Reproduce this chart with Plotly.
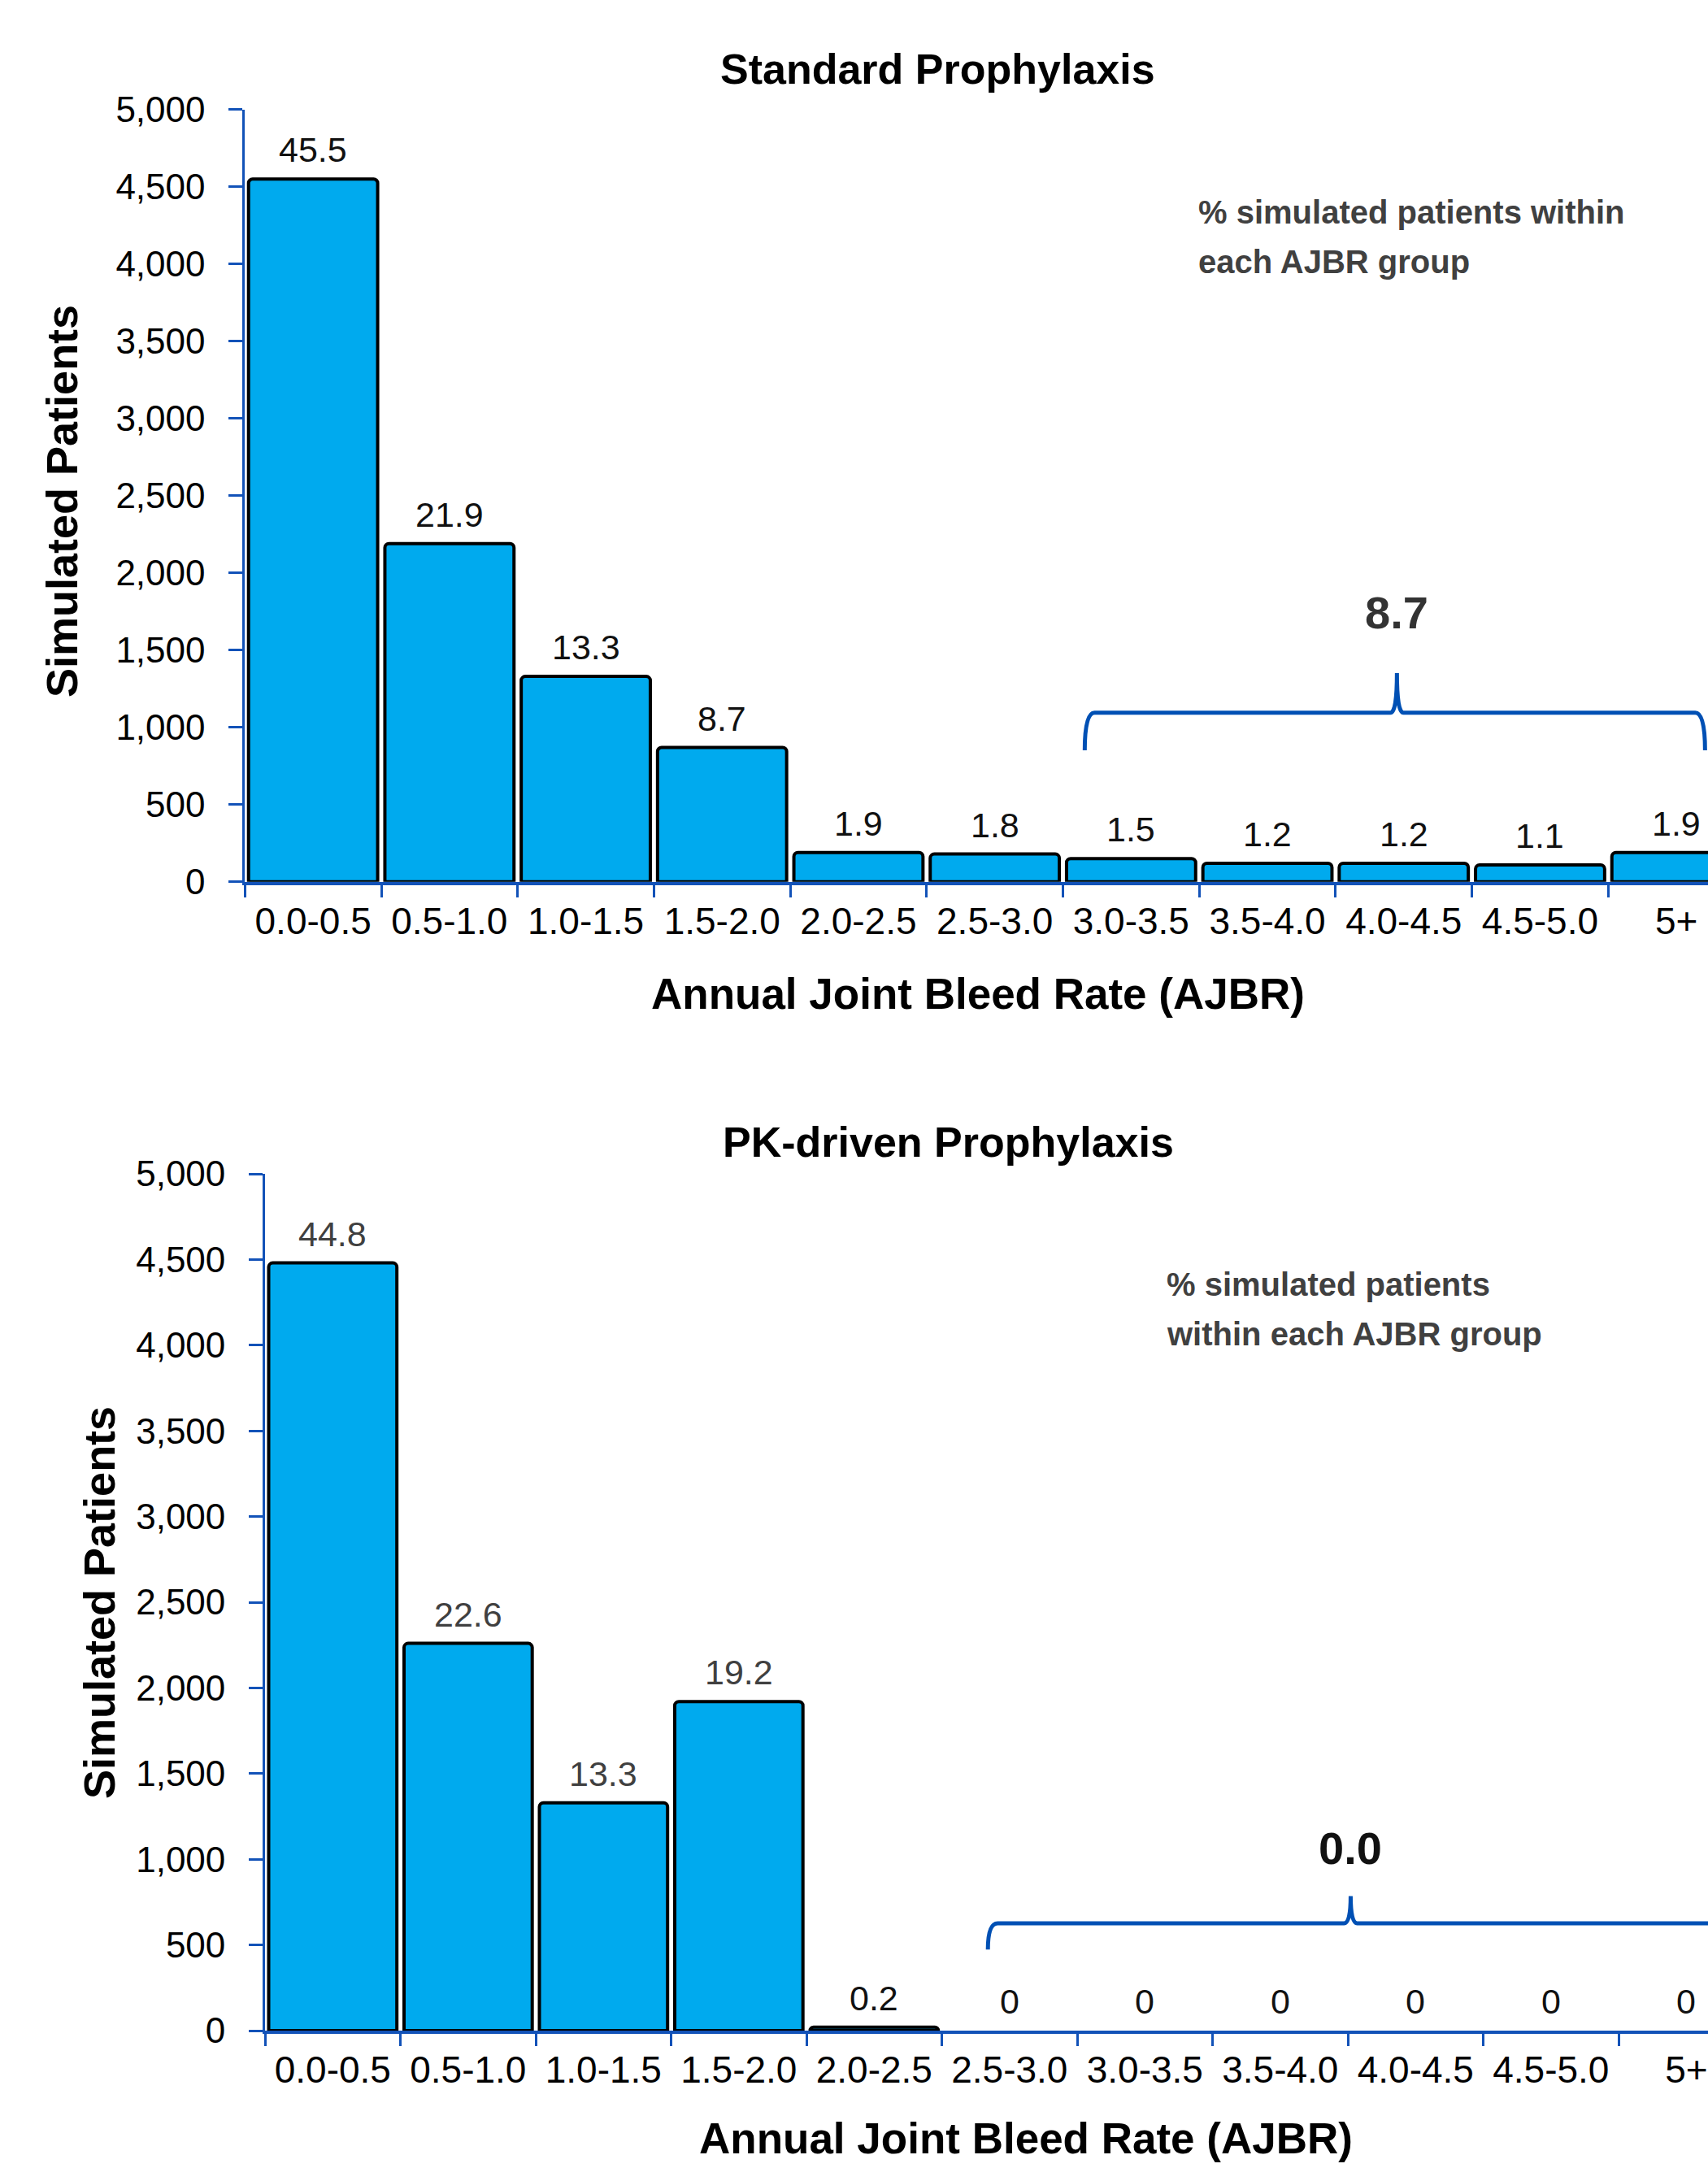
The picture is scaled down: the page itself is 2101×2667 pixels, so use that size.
import plotly.graph_objects as go

W, H = 2101, 2667

categories = ["0.0-0.5", "0.5-1.0", "1.0-1.5", "1.5-2.0", "2.0-2.5", "2.5-3.0",
              "3.0-3.5", "3.5-4.0", "4.0-4.5", "4.5-5.0", "5+"]

std_counts = [4550, 2190, 1330, 870, 190, 180, 150, 120, 120, 110, 190]
std_pct = [45.5, 21.9, 13.3, 8.7, 1.9, 1.8, 1.5, 1.2, 1.2, 1.1, 1.9]
std_label_colors = ["#111111"] * 11

pk_counts = [4480, 2260, 1330, 1920, 20, 0, 0, 0, 0, 0, 0]
pk_pct = [44.8, 22.6, 13.3, 19.2, 0.2, 0, 0, 0, 0, 0, 0]
pk_label_colors = ["#404040", "#404040", "#404040", "#404040",
                   "#111111", "#111111", "#111111", "#111111", "#111111", "#111111", "#111111"]

y_ticks = [0, 500, 1000, 1500, 2000, 2500, 3000, 3500, 4000, 4500, 5000]

titles = ["Standard Prophylaxis", "PK-driven Prophylaxis"]
notes = [["% simulated patients within", "each AJBR group"],
         ["% simulated patients", "within each AJBR group"]]
bracket_totals = ["8.7", "0.0"]
x_title = "Annual Joint Bleed Rate (AJBR)"
y_title = "Simulated Patients"

FONT = "Liberation Sans, Arial, sans-serif"
BAR = "#00AAEE"
AXBLUE = "#1252B8"
BRBLUE = "#0050B4"


def px(x):
    return x / W


def py(y):
    return 1 - y / H


fig = go.Figure()

panels = [
    dict(counts=std_counts, pct=std_pct, colors=std_label_colors, xa="x", ya="y",
         axis_left=301.3, cat_w=167.7, y0=1084.8, y5000=134.8),
    dict(counts=pk_counts, pct=pk_pct, colors=pk_label_colors, xa="x2", ya="y2",
         axis_left=326.1, cat_w=166.5, y0=2498.0, y5000=1444.0),
]

annotations = []
shapes = []

for i, p in enumerate(panels):
    fig.add_trace(go.Bar(
        x=categories, y=p["counts"], xaxis=p["xa"], yaxis=p["ya"],
        marker=dict(color=BAR, cornerradius=5,
                    line=dict(color="black", width=[4 if v > 0 else 0 for v in p["counts"]])),
        showlegend=False, hoverinfo="x+y",
    ))
    for c, v, pc, col in zip(categories, p["counts"], p["pct"], p["colors"]):
        annotations.append(dict(
            x=c, y=v, xref=p["xa"], yref=p["ya"], text=(f"{pc:.1f}" if pc else "0"),
            showarrow=False, yanchor="bottom", yshift=10,
            font=dict(family=FONT, size=43, color=col),
        ))

# axes
for i, p in enumerate(panels):
    xr_end = -0.5 + (W - p["axis_left"]) / p["cat_w"]
    xkey = "xaxis" if i == 0 else "xaxis2"
    ykey = "yaxis" if i == 0 else "yaxis2"
    fig.layout[xkey] = dict(
        domain=[px(p["axis_left"]), 1], anchor=p["ya"], type="category",
        categoryorder="array", categoryarray=categories, automargin=False,
        range=[-0.5, xr_end], tickson="boundaries", ticks="outside", ticklen=15,
        tickwidth=3, tickcolor=AXBLUE, showline=True, linecolor=AXBLUE, linewidth=4,
        showgrid=False, zeroline=False, ticklabelstandoff=5, tickangle=0,
        tickfont=dict(family=FONT, size=46, color="black"),
    )
    fig.layout[ykey] = dict(
        domain=[py(p["y0"]), py(p["y5000"])], anchor=p["xa"], range=[0, 5000],
        tickvals=y_ticks, tickformat=",", ticks="outside", ticklen=17, tickwidth=3,
        tickcolor=AXBLUE, showline=True, linecolor=AXBLUE, linewidth=3, automargin=False,
        showgrid=False, zeroline=False, ticklabelstandoff=20,
        tickfont=dict(family=FONT, size=44, color="black"),
    )


def bracket(x0, xt, x1, yb, yh, yt, dx, dt):
    return (f"M {x0},{yb} Q {x0},{yh} {x0 + dx},{yh} L {xt - dt},{yh} "
            f"Q {xt},{yh} {xt},{yt} Q {xt},{yh} {xt + dt},{yh} "
            f"L {x1 - dx},{yh} Q {x1},{yh} {x1},{yb}")


# bracket geometry (category index units / count units)
brackets = [
    dict(x0=5.66, xt=7.95, x1=10.21, yb=852, yh=1095, yt=1352, lab_y=1742, lab_color="#333333"),
    dict(x0=4.84, xt=7.52, x1=10.40, yb=473, yh=626, yt=785, lab_y=1067, lab_color="#111111"),
]
for i, (p, b) in enumerate(zip(panels, brackets)):
    dx = 12 / p["cat_w"]
    dt = 8 / p["cat_w"]
    shapes.append(dict(
        type="path", xref=p["xa"], yref=p["ya"],
        path=bracket(b["x0"], b["xt"], b["x1"], b["yb"], b["yh"], b["yt"], dx, dt),
        line=dict(color=BRBLUE, width=5),
    ))
    annotations.append(dict(
        x=b["xt"], y=b["lab_y"], xref=p["xa"], yref=p["ya"], text=f"<b>{bracket_totals[i]}</b>",
        showarrow=False, xanchor="center", yanchor="middle",
        font=dict(family=FONT, size=56, color=b["lab_color"]),
    ))

# titles, notes and axis titles (pixel placement)
text_items = [
    (titles[0], 1153, 85, 52, "black", "center", 0),
    (titles[1], 1166, 1405, 52, "black", "center", 0),
    (notes[0][0], 1472, 261, 40, "#404040", "left", 0),
    (notes[0][1], 1472, 322, 40, "#404040", "left", 0),
    (notes[1][0], 1433, 1580, 40, "#404040", "left", 0),
    (notes[1][1], 1433, 1641, 40, "#404040", "left", 0),
    (x_title, 1203, 1222, 53, "black", "center", 0),
    (x_title, 1262, 2630, 53, "black", "center", 0),
    (y_title, 76, 617, 54, "black", "center", -90),
    (y_title, 122, 1972, 54, "black", "center", -90),
]
for txt, x, y, size, col, anchor, ang in text_items:
    annotations.append(dict(
        x=px(x), y=py(y), xref="paper", yref="paper", text=f"<b>{txt}</b>",
        showarrow=False, xanchor=anchor, yanchor="middle", align=anchor,
        textangle=ang, font=dict(family=FONT, size=size, color=col),
    ))

fig.update_layout(
    width=W, height=H, margin=dict(l=0, r=0, t=0, b=0, autoexpand=False),
    paper_bgcolor="white", plot_bgcolor="white",
    bargap=0.053, annotations=annotations, shapes=shapes,
    font=dict(family=FONT, color="black"),
)

fig.write_html("out.html", config={"displayModeBar": False},
               post_script="document.body.style.margin='0';document.body.style.overflow='hidden';")
